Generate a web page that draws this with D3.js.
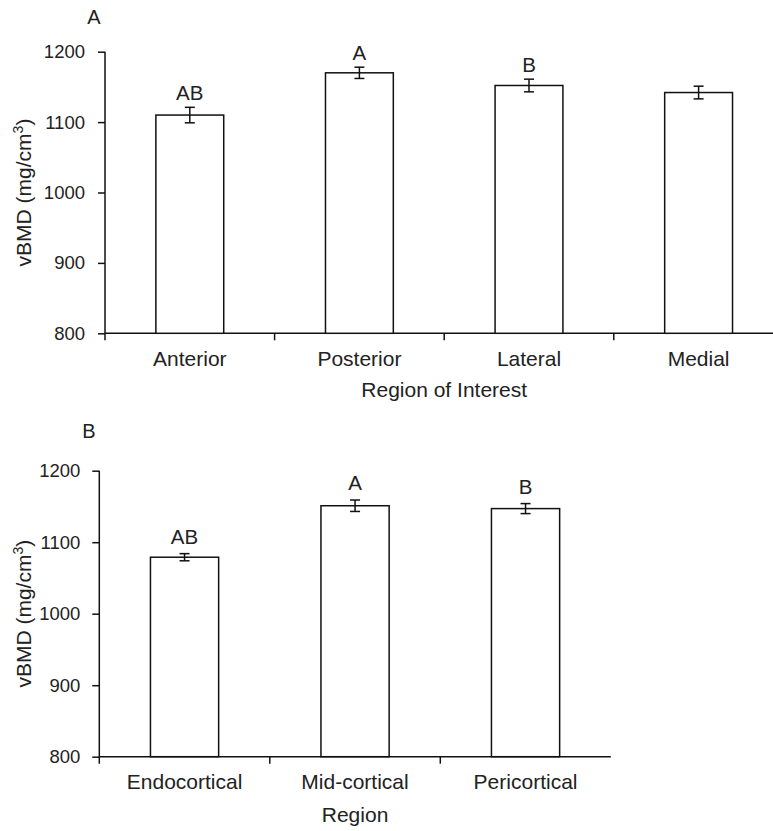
<!DOCTYPE html>
<html>
<head>
<meta charset="utf-8">
<script src="https://cdn.jsdelivr.net/npm/d3@7/dist/d3.min.js"></script>
<style>
  html, body { margin: 0; padding: 0; background: #fff; }
  svg { display: block; }
  text { font-family: "Liberation Sans", Arial, sans-serif; fill: #222; }
</style>
</head>
<body>
<svg id="chart" width="773" height="831"></svg>
<script>
// ---- Data ----
const regionsA = ["Anterior", "Posterior", "Lateral", "Medial"];
const meansA = [1110, 1170, 1152, 1142];
const errorsA = [11, 8, 9, 9];
const lettersA = ["AB", "A", "B", ""];

const regionsB = ["Endocortical", "Mid-cortical", "Pericortical"];
const meansB = [1079, 1151, 1147];
const errorsB = [5, 8, 7];
const lettersB = ["AB", "A", "B"];

const yTicks = [800, 900, 1000, 1100, 1200];
const yDomain = [800, 1200];

const svg = d3.select("#chart");

function panel(cfg) {
  const g = svg.append("g");
  const x = d3.scaleBand()
    .domain(cfg.cats)
    .range([cfg.x0, cfg.x1])
    .paddingInner(0.6)
    .paddingOuter(0.3);
  const y = d3.scaleLinear().domain(yDomain).range([cfg.yb, cfg.yt]);

  // y axis ticks and labels
  const yAxis = d3.axisLeft(y).tickValues(yTicks).tickSize(7).tickPadding(cfg.tickPad).tickFormat(d3.format("d"));
  const ya = g.append("g").attr("transform", `translate(${cfg.x0},0)`).call(yAxis);
  ya.select(".domain").remove();
  ya.selectAll(".tick line").attr("stroke", "#111").attr("stroke-width", 1.5);
  ya.selectAll(".tick text").attr("font-size", 18.5).attr("fill", "#222")
    .style("font-family", '"Liberation Sans", Arial, sans-serif');

  // y axis line (extends below baseline like a tick)
  g.append("line")
    .attr("x1", cfg.x0).attr("x2", cfg.x0)
    .attr("y1", y(yDomain[1])).attr("y2", y(yDomain[0]) + 7)
    .attr("stroke", "#111").attr("stroke-width", 1.5);

  // x axis line
  g.append("line")
    .attr("x1", cfg.x0).attr("x2", cfg.x1)
    .attr("y1", y(yDomain[0])).attr("y2", y(yDomain[0]))
    .attr("stroke", "#111").attr("stroke-width", 1.5);

  // x ticks between categories
  const step = x.step();
  g.selectAll(".xt").data(cfg.cats.slice(1)).enter().append("line")
    .attr("x1", (d, i) => cfg.x0 + (i + 1) * step)
    .attr("x2", (d, i) => cfg.x0 + (i + 1) * step)
    .attr("y1", y(yDomain[0])).attr("y2", y(yDomain[0]) + 7)
    .attr("stroke", "#111").attr("stroke-width", 1.5);

  // bars
  g.selectAll(".bar").data(cfg.cats).enter().append("rect")
    .attr("x", d => x(d))
    .attr("y", (d, i) => y(cfg.means[i]))
    .attr("width", x.bandwidth())
    .attr("height", (d, i) => y(yDomain[0]) - y(cfg.means[i]))
    .attr("fill", "#fff").attr("stroke", "#111").attr("stroke-width", 1.5);

  // error bars
  const cap = 5;
  cfg.cats.forEach((d, i) => {
    const cx = x(d) + x.bandwidth() / 2;
    const hi = y(cfg.means[i] + cfg.errs[i]);
    const lo = y(cfg.means[i] - cfg.errs[i]);
    g.append("line").attr("x1", cx).attr("x2", cx).attr("y1", hi).attr("y2", lo)
      .attr("stroke", "#111").attr("stroke-width", 1.5);
    g.append("line").attr("x1", cx - cap).attr("x2", cx + cap).attr("y1", hi).attr("y2", hi)
      .attr("stroke", "#111").attr("stroke-width", 1.5);
    g.append("line").attr("x1", cx - cap).attr("x2", cx + cap).attr("y1", lo).attr("y2", lo)
      .attr("stroke", "#111").attr("stroke-width", 1.5);
    if (cfg.letters[i]) {
      g.append("text").attr("x", cx).attr("y", hi - cfg.letterGap)
        .attr("text-anchor", "middle").attr("font-size", 20.5).text(cfg.letters[i]);
    }
  });

  // x category labels
  g.selectAll(".xl").data(cfg.cats).enter().append("text")
    .attr("x", d => x(d) + x.bandwidth() / 2)
    .attr("y", y(yDomain[0]) + cfg.labelDy)
    .attr("text-anchor", "middle").attr("font-size", 21)
    .text(d => d);

  // x axis title
  g.append("text")
    .attr("x", (cfg.x0 + cfg.x1) / 2)
    .attr("y", cfg.xTitleY)
    .attr("text-anchor", "middle").attr("font-size", 21)
    .text(cfg.xTitle);

  // y axis title
  const yt = g.append("text")
    .attr("transform", `translate(${cfg.yTitleX},${(cfg.yt + cfg.yb) / 2}) rotate(-90)`)
    .attr("text-anchor", "middle").attr("font-size", 21);
  yt.append("tspan").text("vBMD (mg/cm");
  yt.append("tspan").attr("font-size", 14).attr("dy", -8).text("3");
  yt.append("tspan").attr("dy", 8).text(")");

  // panel label
  g.append("text").attr("x", cfg.panelX).attr("y", cfg.panelY)
    .attr("text-anchor", "middle").attr("font-size", 20).text(cfg.panel);
}

panel({
  cats: regionsA, means: meansA, errs: errorsA, letters: lettersA,
  x0: 105, x1: 783.4, yt: 51.7, yb: 333.3, tickPad: 13, letterGap: 7,
  labelDy: 33, xTitle: "Region of Interest", xTitleY: 397,
  yTitleX: 31, panel: "A", panelX: 94, panelY: 24
});

panel({
  cats: regionsB, means: meansB, errs: errorsB, letters: lettersB,
  x0: 99.3, x1: 610.8, yt: 470.7, yb: 756.7, tickPad: 12, letterGap: 10,
  labelDy: 32, xTitle: "Region", xTitleY: 822,
  yTitleX: 31, panel: "B", panelX: 89, panelY: 438
});
</script>
</body>
</html>
